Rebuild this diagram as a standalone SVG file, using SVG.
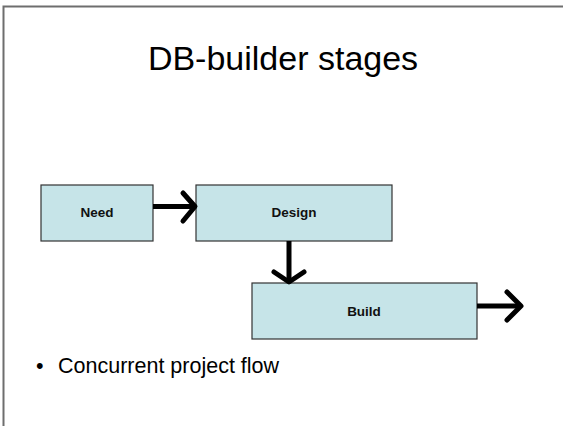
<svg xmlns="http://www.w3.org/2000/svg" width="563" height="426" viewBox="0 0 563 426">
  <style>
    .frame { fill: none; stroke: #6e6e6e; stroke-width: 2; }
    .box { fill: #c6e4e8; stroke: #333; stroke-width: 1.2; }
    .label { font-family: "Liberation Sans", Arial, sans-serif; font-weight: bold; font-size: 13.5px; fill: #111; text-anchor: middle; }
    .title { font-family: "Liberation Sans", Arial, sans-serif; font-size: 34px; fill: #000; text-anchor: middle; }
    .bullet { font-family: "Liberation Sans", Arial, sans-serif; font-size: 21.5px; fill: #000; }
    .conn { fill: none; stroke: #000; stroke-width: 5; stroke-linecap: butt; stroke-linejoin: round; }
    .head { fill: none; stroke: #000; stroke-width: 5; stroke-linecap: round; stroke-linejoin: round; }
  </style>
  <rect width="563" height="426" fill="#fff"/>
  <path class="frame" d="M3.5 426 V6.5 H563"/>

  <text class="title" x="283" y="70">DB-builder stages</text>

  <g id="node-need">
    <rect class="box" x="41" y="185" width="112" height="56"/>
    <text class="label" x="97" y="217">Need</text>
  </g>
  <g id="node-design">
    <rect class="box" x="196" y="185" width="196" height="56"/>
    <text class="label" x="294" y="217">Design</text>
  </g>
  <g id="node-build">
    <rect class="box" x="252" y="283" width="225" height="56"/>
    <text class="label" x="364" y="316">Build</text>
  </g>

  <g id="connectors">
    <path class="conn" d="M153 206.5 H194"/>
    <path class="head" d="M183 193 L195 206.5 L183 221"/>
    <path class="conn" d="M289 241 V280"/>
    <path class="head" d="M274 272 L289 282 L304 272"/>
    <path class="conn" d="M477 306 H520"/>
    <path class="head" d="M507 292 L521 306 L507 320"/>
  </g>

  <text class="bullet" x="36" y="373">•</text>
  <text class="bullet" x="58" y="373">Concurrent project flow</text>
</svg>
